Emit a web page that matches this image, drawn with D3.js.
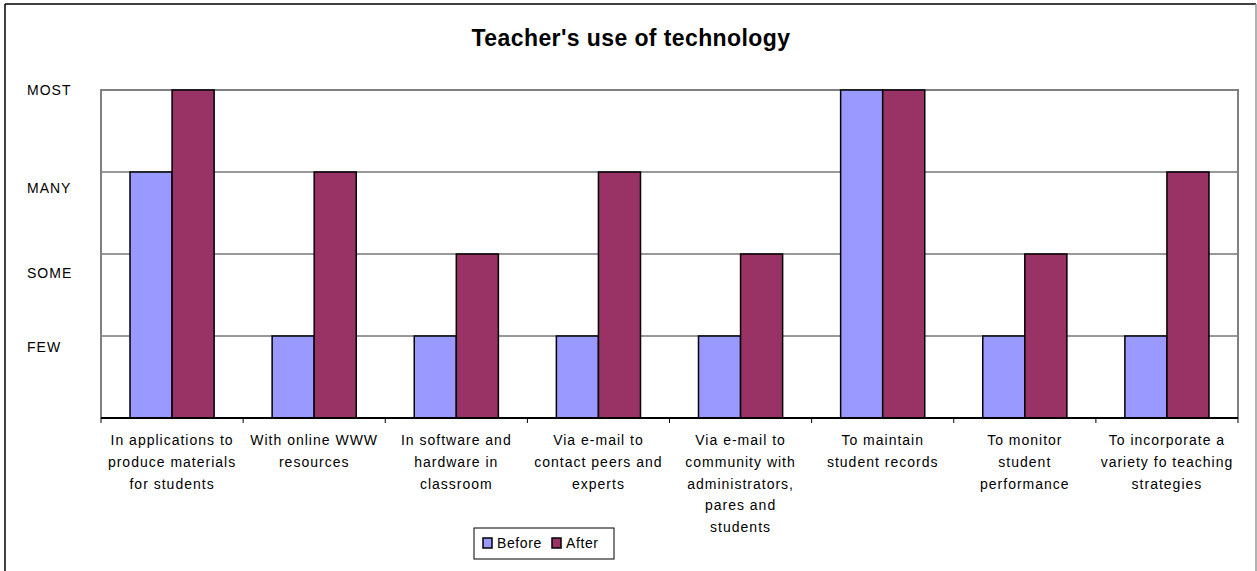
<!DOCTYPE html>
<meta charset="utf-8">

<!-- Load d3.js -->
<script src="https://d3js.org/d3.v7.min.js"></script>

<style>
    body {
        margin: 0;
        background: #fff;
    }
    svg text {
        font-family: Arial, "Liberation Sans", sans-serif;
    }
</style>

<div id="my_dataviz"></div>

<script>

    // ---- data ----
    var categories = [
        "In applications to|produce materials|for students",
        "With online WWW|resources",
        "In software and|hardware in|classroom",
        "Via e-mail to|contact peers and|experts",
        "Via e-mail to|community with|administrators,|pares and|students",
        "To maintain|student records",
        "To monitor|student|performance",
        "To incorporate a|variety fo teaching|strategies"
    ];
    var seriesNames = ["Before", "After"];
    var before = [3, 1, 1, 1, 1, 4, 1, 1];
    var after = [4, 3, 2, 3, 2, 4, 2, 3];
    var levelValues = [1, 2, 3, 4];
    var levelLabels = ["FEW", "SOME", "MANY", "MOST"];

    // dimensions
    var W = 1257, H = 571;
    var plot = { left: 101, right: 1238, top: 90, bottom: 418 };

    var svg = d3.select("#my_dataviz")
        .append("svg")
        .attr("width", W)
        .attr("height", H);

    // outer chart border
    svg.append("line").attr("x1", 5).attr("x2", 1256).attr("y1", 4).attr("y2", 4)
        .attr("stroke", "#000").attr("stroke-width", 1.5);
    svg.append("line").attr("x1", 5).attr("x2", 5).attr("y1", 4).attr("y2", H)
        .attr("stroke", "#000").attr("stroke-width", 1.5);
    svg.append("line").attr("x1", 1256).attr("x2", 1256).attr("y1", 4).attr("y2", H)
        .attr("stroke", "#999").attr("stroke-width", 1.5);

    // title
    svg.append("text")
        .attr("x", 631)
        .attr("y", 46)
        .attr("text-anchor", "middle")
        .style("font-size", "23px")
        .style("font-weight", "bold")
        .style("letter-spacing", "0.4px")
        .text("Teacher's use of technology");

    // scales
    var x0 = d3.scaleBand()
        .domain(categories)
        .range([plot.left, plot.right])
        .padding(0);

    var x1 = d3.scaleBand()
        .domain(seriesNames)
        .range([29, x0.bandwidth() - 29]);

    var y = d3.scaleLinear()
        .domain([0, 4])
        .range([plot.bottom, plot.top]);

    var color = d3.scaleOrdinal()
        .domain(seriesNames)
        .range(["#9999ff", "#993366"]);

    // gridlines
    svg.append("g")
        .selectAll("line")
        .data(levelValues.slice(0, 3))
        .enter().append("line")
        .attr("x1", plot.left)
        .attr("x2", plot.right)
        .attr("y1", function (d) { return y(d); })
        .attr("y2", function (d) { return y(d); })
        .attr("stroke", "#333")
        .attr("stroke-width", 1);

    // plot area frame (grey, top + sides)
    svg.append("path")
        .attr("d", "M" + plot.left + "," + plot.bottom + "V" + plot.top + "H" + plot.right + "V" + plot.bottom)
        .attr("fill", "none")
        .attr("stroke", "#808080")
        .attr("stroke-width", 2);

    // y labels (Excel put them a little below the gridlines)
    var labelShift = { FEW: 11, SOME: 19, MANY: 16, MOST: 0 };
    svg.append("g")
        .selectAll("text")
        .data(levelValues)
        .enter().append("text")
        .attr("x", 27)
        .attr("y", function (d, i) { return y(d) + labelShift[levelLabels[i]]; })
        .attr("dy", "0.35em")
        .style("font-size", "14px")
        .style("letter-spacing", "1px")
        .text(function (d, i) { return levelLabels[i]; });

    // bars
    var rows = categories.map(function (c, i) {
        return { cat: c, values: [{ key: "Before", v: before[i] }, { key: "After", v: after[i] }] };
    });

    svg.append("g")
        .selectAll("g")
        .data(rows)
        .enter().append("g")
        .attr("transform", function (d) { return "translate(" + x0(d.cat) + ",0)"; })
        .selectAll("rect")
        .data(function (d) { return d.values; })
        .enter().append("rect")
        .attr("x", function (d) { return x1(d.key); })
        .attr("y", function (d) { return y(d.v); })
        .attr("width", x1.bandwidth())
        .attr("height", function (d) { return y(0) - y(d.v); })
        .attr("fill", function (d) { return color(d.key); })
        .attr("stroke", "#000")
        .attr("stroke-width", 1.5);

    // x axis
    var xAxis = svg.append("g")
        .attr("transform", "translate(0," + plot.bottom + ")");
    xAxis.append("line")
        .attr("x1", plot.left).attr("x2", plot.right)
        .attr("stroke", "#000").attr("stroke-width", 2);
    xAxis.selectAll(".tick")
        .data(categories.concat([null]))
        .enter().append("line")
        .attr("x1", function (d, i) { return plot.left + i * x0.step(); })
        .attr("x2", function (d, i) { return plot.left + i * x0.step(); })
        .attr("y1", 0).attr("y2", 5)
        .attr("stroke", "#000");

    // category labels
    svg.append("g")
        .selectAll("text")
        .data(categories)
        .enter().append("text")
        .attr("text-anchor", "middle")
        .style("font-size", "14px")
        .style("letter-spacing", "1px")
        .attr("transform", function (d) { return "translate(" + (x0(d) + x0.bandwidth() / 2) + ",445)"; })
        .selectAll("tspan")
        .data(function (d) { return d.split("|"); })
        .enter().append("tspan")
        .attr("x", 0)
        .attr("y", function (d, i) { return i * 21.8; })
        .text(function (d) { return d; });

    // legend
    var legend = svg.append("g").attr("transform", "translate(474,528)");
    legend.append("rect")
        .attr("width", 140).attr("height", 31)
        .attr("fill", "#fff").attr("stroke", "#000").attr("stroke-width", 1);
    var item = legend.selectAll(".item")
        .data(seriesNames)
        .enter().append("g")
        .attr("transform", function (d, i) { return "translate(" + (9 + i * 69) + ",10)"; });
    item.append("rect")
        .attr("width", 9).attr("height", 10)
        .attr("fill", function (d) { return color(d); })
        .attr("stroke", "#000").attr("stroke-width", 1.5);
    item.append("text")
        .attr("x", 14).attr("y", 10)
        .style("font-size", "14px")
        .style("letter-spacing", "0.6px")
        .text(function (d) { return d; });

</script>
